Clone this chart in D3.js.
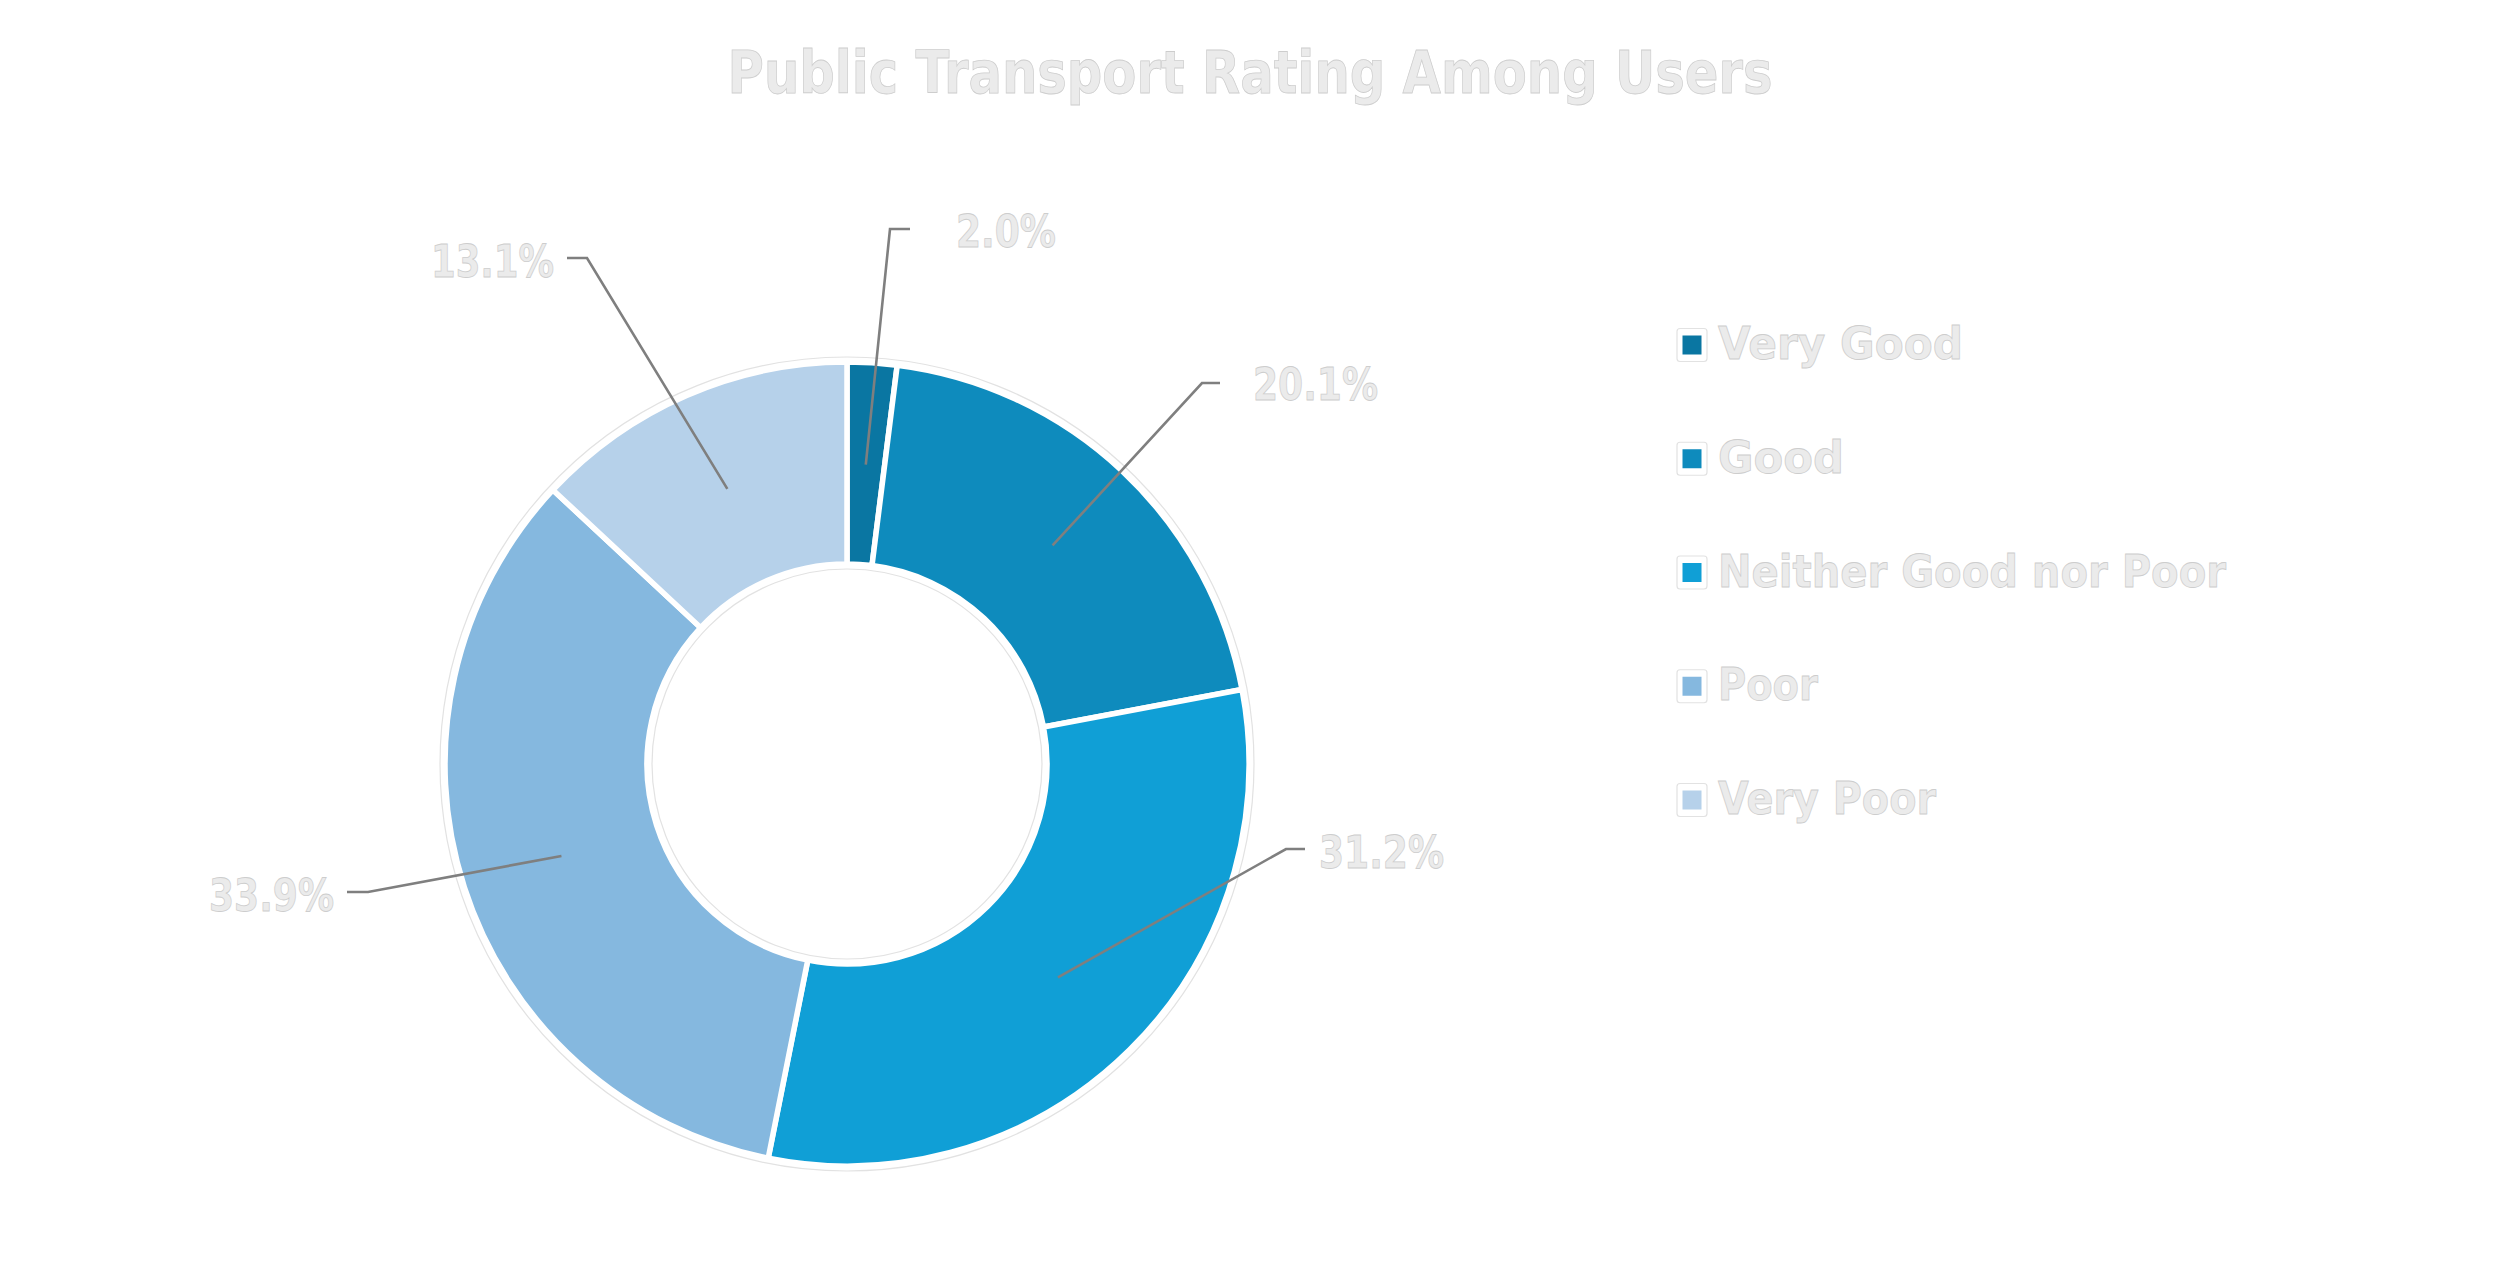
<!DOCTYPE html>
<html>
<head>
<meta charset="utf-8">
<script src="https://cdn.jsdelivr.net/npm/d3@7"></script>
<style>
  html, body { margin: 0; padding: 0; background: #ffffff; }
  svg { display: block; }
  .lt { font-family: "DejaVu Sans", sans-serif; font-weight: bold; fill: #ebebeb; stroke: #cdcdcd; stroke-width: 0.8; }
</style>
</head>
<body>
<svg id="chart" width="2500" height="1273"></svg>
<script>
// ---- data ----
const title = "Public Transport Rating Among Users";
const categories = ["Very Good", "Good", "Neither Good nor Poor", "Poor", "Very Poor"];
const values = [2.0, 20.1, 31.2, 33.9, 13.1];
const valueLabels = ["2.0%", "20.1%", "31.2%", "33.9%", "13.1%"];
const colors = ["#0a76a2", "#0e8bbd", "#109fd6", "#85b8df", "#b6d1ea"];

// ---- layout (not data) ----
const W = 2500, H = 1273;
const cx = 847, cy = 764;
const rOuter = 402, rInner = 200;
// leader-line elbows and label anchors, placed by hand in the original chart
const labelLayout = [
  { elbow: [890, 229], end: 910, tx: 956, ty: 247, anchor: "start", w: 100 },
  { elbow: [1202, 383], end: 1220, tx: 1253, ty: 400, anchor: "start", w: 125 },
  { elbow: [1286, 849], end: 1305, tx: 1319, ty: 868, anchor: "start", w: 125 },
  { elbow: [368, 892], end: 347, tx: 334, ty: 911, anchor: "end", w: 125 },
  { elbow: [587, 258], end: 567, tx: 554, ty: 277, anchor: "end", w: 123 }
];

const svg = d3.select("#chart");

// title
svg.append("text")
  .attr("class", "lt")
  .attr("x", 1250).attr("y", 93)
  .attr("text-anchor", "middle")
  .attr("font-size", 59)
  .attr("textLength", 1045)
  .attr("lengthAdjust", "spacingAndGlyphs")
  .text(title);

const g = svg.append("g").attr("transform", `translate(${cx},${cy})`);

const pie = d3.pie().sort(null).value(d => d);
const arcs = pie(values);

// faint outline ring (glow effect)
g.append("path")
  .attr("d", d3.arc().innerRadius(rInner - 5).outerRadius(rOuter + 5).startAngle(0).endAngle(2 * Math.PI)())
  .attr("fill", "#ffffff")
  .attr("stroke", "#e2e2e2")
  .attr("stroke-width", 1.2);

const arcGen = d3.arc().innerRadius(rInner).outerRadius(rOuter);
g.selectAll("path.slice")
  .data(arcs)
  .join("path")
  .attr("class", "slice")
  .attr("d", arcGen)
  .attr("fill", (d, i) => colors[i])
  .attr("stroke", "#ffffff")
  .attr("stroke-width", 5.5)
  .attr("stroke-linejoin", "miter");

// leader lines and value labels
const midArc = d3.arc().innerRadius((rInner + rOuter) / 2 - 1).outerRadius((rInner + rOuter) / 2 - 1);
arcs.forEach((d, i) => {
  const c = midArc.centroid(d);
  const L = labelLayout[i];
  const p0 = [cx + c[0], cy + c[1]];
  svg.append("path")
    .attr("d", d3.line()([p0, L.elbow, [L.end, L.elbow[1]]]))
    .attr("fill", "none")
    .attr("stroke", "#7f7f7f")
    .attr("stroke-width", 2.6);
  svg.append("text")
    .attr("class", "lt")
    .attr("x", L.tx).attr("y", L.ty)
    .attr("text-anchor", L.anchor)
    .attr("font-size", 45)
    .attr("textLength", L.w)
    .attr("lengthAdjust", "spacingAndGlyphs")
    .text(valueLabels[i]);
});

// legend
const ly = d3.scalePoint().domain(categories).range([345, 800]);
const legendWidths = [245, 126, 508, 100, 218];
const lg = svg.append("g");
categories.forEach((cat, i) => {
  const y = ly(cat);
  lg.append("rect")
    .attr("x", 1677).attr("y", y - 16.5)
    .attr("width", 30).attr("height", 33)
    .attr("rx", 3)
    .attr("fill", "#ffffff")
    .attr("stroke", "#e2e2e2")
    .attr("stroke-width", 1.2);
  lg.append("rect")
    .attr("x", 1682.5).attr("y", y - 9.5)
    .attr("width", 19).attr("height", 19)
    .attr("fill", colors[i]);
  lg.append("text")
    .attr("class", "lt")
    .attr("x", 1718).attr("y", y + 14)
    .attr("font-size", 45)
    .attr("textLength", legendWidths[i])
    .attr("lengthAdjust", "spacingAndGlyphs")
    .text(cat);
});
</script>
</body>
</html>
